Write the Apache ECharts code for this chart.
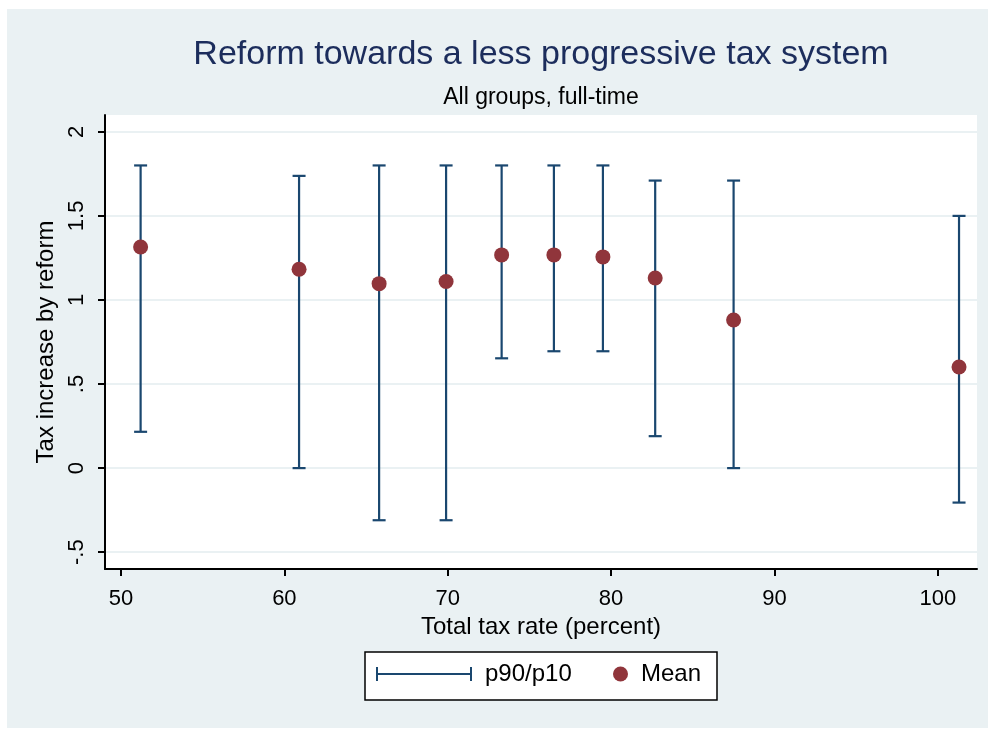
<!DOCTYPE html>
<html>
<head>
<meta charset="utf-8">
<script src="https://cdn.jsdelivr.net/npm/echarts@6/dist/echarts.min.js"></script>
<style>
html,body{margin:0;padding:0;background:#fff;}
#c{width:991px;height:730px;}
</style>
</head>
<body>
<div id="c"></div>
<script>
// Data
const taxRate = [51.2, 60.9, 65.8, 69.9, 73.3, 76.5, 79.5, 82.7, 87.5, 101.3];
const meanVals = [1.315, 1.183, 1.097, 1.11, 1.268, 1.268, 1.256, 1.131, 0.881, 0.601];
const p90Vals = [1.80, 1.738, 1.80, 1.80, 1.80, 1.80, 1.80, 1.71, 1.71, 1.50];
const p10Vals = [0.216, 0.0, -0.31, -0.31, 0.653, 0.695, 0.695, 0.19, 0.0, -0.205];
const xTicks = [50, 60, 70, 80, 90, 100];
const yTicks = [-0.5, 0, 0.5, 1, 1.5, 2];
const yTickLabels = ['-.5', '0', '.5', '1', '1.5', '2'];
const titleText = 'Reform towards a less progressive tax system';
const subtitleText = 'All groups, full-time';

const FONT = '"Liberation Sans", Arial, sans-serif';
const NAVY = '#1a476f';
const MAROON = '#90353b';

const errData = taxRate.map((x, i) => [x, p10Vals[i], p90Vals[i]]);
const meanData = taxRate.map((x, i) => [x, meanVals[i]]);

const chart = echarts.init(document.getElementById('c'), null, {renderer: 'canvas'});
chart.setOption({
  backgroundColor: '#ffffff',
  animation: false,
  graphic: [
    {type: 'rect', z: -10, silent: true, shape: {x: 7, y: 9, width: 981, height: 719}, style: {fill: '#eaf1f3'}},
    {type: 'text', silent: true, x: 541, y: 55, style: {text: titleText, x: 0, y: 0, align: 'center', verticalAlign: 'middle', font: '34px ' + FONT, fill: '#1c2d5c'}},
    {type: 'text', silent: true, x: 541, y: 98, style: {text: subtitleText, x: 0, y: 0, align: 'center', verticalAlign: 'middle', font: '23px ' + FONT, fill: '#000'}},
    {type: 'rect', silent: true, z: 5, shape: {x: 365, y: 652, width: 352, height: 48}, style: {fill: '#fff', stroke: '#000', lineWidth: 1.5}}
  ],
  grid: {left: 105, right: 14, top: 115, bottom: 161, show: true, backgroundColor: '#fff', borderWidth: 0},
  xAxis: {
    type: 'value', min: 49.02, max: 102.4,
    name: 'Total tax rate (percent)', nameLocation: 'middle', nameGap: 46,
    nameTextStyle: {fontFamily: FONT, fontSize: 24, color: '#000'},
    axisLine: {show: true, onZero: false, lineStyle: {color: '#000', width: 2}},
    axisTick: {show: true, length: 7, lineStyle: {color: '#000', width: 2}, customValues: xTicks},
    axisLabel: {customValues: xTicks, fontFamily: FONT, fontSize: 22, color: '#000', margin: 19},
    splitLine: {show: false}
  },
  yAxis: {
    type: 'value', min: -0.6, max: 2.1,
    name: 'Tax increase by reform', nameLocation: 'middle', nameGap: 42,
    nameTextStyle: {fontFamily: FONT, fontSize: 24, color: '#000'},
    axisLine: {show: true, onZero: false, lineStyle: {color: '#000', width: 2}},
    axisTick: {show: true, length: 7, lineStyle: {color: '#000', width: 2}, customValues: yTicks},
    axisLabel: {
      customValues: yTicks, rotate: 90, fontFamily: FONT, fontSize: 22, color: '#000', margin: 17,
      formatter: v => { const i = yTicks.findIndex(t => Math.abs(t - v) < 1e-9); return i >= 0 ? yTickLabels[i] : ''; }
    },
    splitLine: {show: true, lineStyle: {color: '#eaf1f3', width: 2}}
  },
  legend: [
    {
      left: 376, top: 662, padding: 0, z: 6,
      textStyle: {fontFamily: FONT, fontSize: 24, color: '#000', padding: [0, 0, 0, 8]},
      data: [{name: 'p90/p10', icon: 'path://M0,0h2v14h-2z M2,6h92v2h-92z M94,0h2v14h-2z', itemStyle: {color: NAVY}}],
      itemWidth: 96, itemHeight: 14
    },
    {
      left: 613, top: 662, padding: 0, z: 6,
      textStyle: {fontFamily: FONT, fontSize: 24, color: '#000', padding: [0, 0, 0, 8]},
      data: [{name: 'Mean', icon: 'circle', itemStyle: {color: MAROON}}],
      itemWidth: 15, itemHeight: 15
    }
  ],
  series: [
    {
      name: 'p90/p10', type: 'custom', data: errData,
      encode: {x: 0, y: [1, 2]},
      itemStyle: {color: NAVY},
      renderItem: function (params, api) {
        const x = api.value(0);
        const lo = api.coord([x, api.value(1)]);
        const hi = api.coord([x, api.value(2)]);
        const hw = 6.5;
        const st = {stroke: NAVY, lineWidth: 2.2, fill: 'none'};
        return {
          type: 'group',
          children: [
            {type: 'line', shape: {x1: lo[0], y1: lo[1], x2: hi[0], y2: hi[1]}, style: st},
            {type: 'line', shape: {x1: lo[0] - hw, y1: lo[1], x2: lo[0] + hw, y2: lo[1]}, style: st},
            {type: 'line', shape: {x1: hi[0] - hw, y1: hi[1], x2: hi[0] + hw, y2: hi[1]}, style: st}
          ]
        };
      },
      z: 2
    },
    {
      name: 'Mean', type: 'scatter', data: meanData,
      symbol: 'circle', symbolSize: 15,
      itemStyle: {color: MAROON, opacity: 1},
      z: 3
    }
  ]
});
</script>
</body>
</html>
